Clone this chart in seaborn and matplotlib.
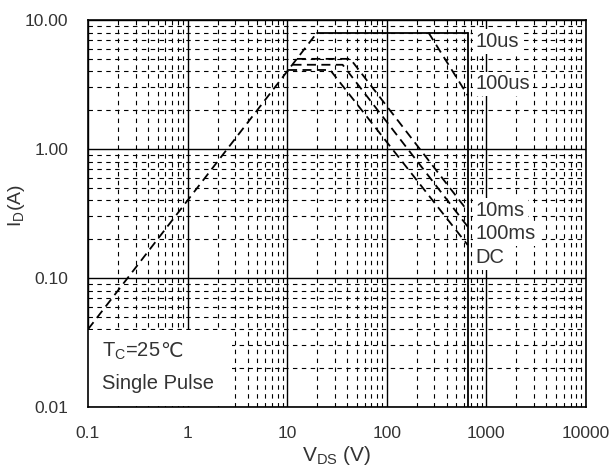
import matplotlib
matplotlib.use("Agg")
import matplotlib.pyplot as plt
import seaborn as sns
from matplotlib.patches import Rectangle
from matplotlib.ticker import FixedLocator, FixedFormatter, LogLocator, NullFormatter

# Safe operating area data
rds_v = [0.1, 20]
rds_i = [0.04, 8.0]
us10_v = [20, 650]
us10_i = [8.0, 8.0]
us100_v = [262, 650]
us100_i = [8.0, 2.6]
ms10_v = [12.5, 43, 650]
ms10_i = [5.0, 5.0, 0.33]
ms100_v = [11.3, 36, 650]
ms100_i = [4.5, 4.5, 0.25]
dc_v = [10.2, 27, 650]
dc_i = [4.1, 4.1, 0.18]
vmax_v = [650, 650]
vmax_i = [0.01, 8.0]

x_ticks = [0.1, 1, 10, 100, 1000, 10000]
x_labels = ["0.1", "1", "10", "100", "1000", "10000"]
y_ticks = [0.01, 0.1, 1, 10]
y_labels = ["0.01", "0.10", "1.00", "10.00"]

curve_labels = ["10us", "100us", "10ms", "100ms", "DC"]
label_pos = [(780, 6.8), (780, 3.2), (780, 0.335), (780, 0.22), (780, 0.145)]

sns.set_style("white")
plt.rcParams['font.family'] = ['Liberation Sans', 'DejaVu Sans']
plt.rcParams['mathtext.fontset'] = 'custom'
plt.rcParams['mathtext.rm'] = 'Liberation Sans'

text_col = '#333333'

fig = plt.figure(figsize=(6.14, 4.68), dpi=100)
ax = fig.add_axes([0.1433, 0.1303, 0.8111, 0.8269])
ax.set_xscale('log')
ax.set_yscale('log')

dash = (0, (5, 3))
kw = dict(ax=ax, color='black', linewidth=1.3, sort=False, estimator=None)
sns.lineplot(x=rds_v, y=rds_i, linestyle=dash, **kw)
sns.lineplot(x=us10_v, y=us10_i, linestyle='-', **kw)
sns.lineplot(x=us100_v, y=us100_i, linestyle=dash, **kw)
sns.lineplot(x=ms10_v, y=ms10_i, linestyle=dash, **kw)
sns.lineplot(x=ms100_v, y=ms100_i, linestyle=dash, **kw)
sns.lineplot(x=dc_v, y=dc_i, linestyle=dash, **kw)
sns.lineplot(x=vmax_v, y=vmax_i, linestyle='-', **kw)

ax.set_xlim(0.1, 10000)
ax.set_ylim(0.01, 10)

ax.xaxis.set_major_locator(FixedLocator(x_ticks))
ax.xaxis.set_major_formatter(FixedFormatter(x_labels))
ax.yaxis.set_major_locator(FixedLocator(y_ticks))
ax.yaxis.set_major_formatter(FixedFormatter(y_labels))
ax.xaxis.set_minor_locator(LogLocator(base=10, subs=range(2, 10), numticks=20))
ax.yaxis.set_minor_locator(LogLocator(base=10, subs=range(2, 10), numticks=20))
ax.xaxis.set_minor_formatter(NullFormatter())
ax.yaxis.set_minor_formatter(NullFormatter())

ax.grid(which='major', color='black', linewidth=1.0, linestyle='-')
ax.grid(which='minor', color='black', linewidth=0.8, linestyle=(0, (4, 4)))
ax.set_axisbelow(True)

ax.tick_params(which='both', direction='in', length=0, labelsize=12.5, colors=text_col)
ax.tick_params(axis='y', which='major', pad=14)
ax.tick_params(axis='x', which='major', pad=14)
for s in ax.spines.values():
    s.set_color('black')
    s.set_linewidth(1.2)

ax.set_xlabel(r'V$_{\mathrm{DS}}$ (V)', fontsize=15, color=text_col, labelpad=2)
ax.set_ylabel(r'I$_{\mathrm{D}}$(A)', fontsize=14, color=text_col)
ax.yaxis.set_label_coords(-0.122, 0.52)

for txt, (xv, yv) in zip(curve_labels, label_pos):
    ax.text(xv, yv, txt, fontsize=14.5, color=text_col, ha='left', va='center',
            bbox=dict(facecolor='white', edgecolor='none', pad=2))

# white panel behind the test-condition note
ax.add_patch(Rectangle((0.0, 0.003), 0.29, 0.197, transform=ax.transAxes,
                       facecolor='white', edgecolor='none', zorder=1))
t1 = ax.text(0.138, 0.0244, r'T$_{\mathrm{C}}$=25', fontsize=14.5, color=text_col,
             ha='left', va='baseline', zorder=3)
ax.annotate('\u2103', xy=(1, 0.0244), xycoords=(t1, 'data'), fontsize=14.5,
            color=text_col, ha='left', va='baseline', family='DejaVu Sans', zorder=3)
ax.text(0.138, 0.0137, 'Single Pulse', fontsize=14.5, color=text_col,
        ha='left', va='baseline', zorder=3)

fig.savefig('out.png', dpi=100)
